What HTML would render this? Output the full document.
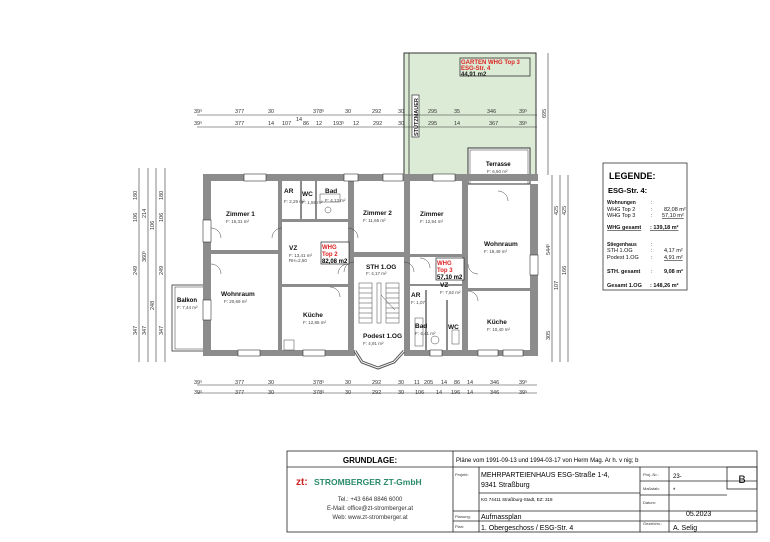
<!DOCTYPE html>
<html><head><meta charset="utf-8"><style>
html,body{margin:0;padding:0;background:#fff}
svg{display:block}
text{font-family:"Liberation Sans",sans-serif}
</style></head><body>
<svg width="770" height="542" viewBox="0 0 770 542" xmlns="http://www.w3.org/2000/svg">
<rect width="770" height="542" fill="#fff"/>
<!-- garden -->
<rect x="404" y="53" width="132" height="122" fill="#dcebd6" stroke="#333" stroke-width="1"/>
<line x1="409" y1="53" x2="409" y2="175" stroke="#333" stroke-width="0.8"/>
<rect x="460" y="58" width="70" height="18" fill="none" stroke="#333" stroke-width="0.8"/>
<text x="461" y="64" font-size="6" fill="#d22" font-weight="bold">GARTEN WHG Top 3</text>
<text x="461" y="70" font-size="6" fill="#d22" font-weight="bold">ESG-Str. 4</text>
<text x="461" y="76" font-size="6" fill="#222" font-weight="bold">44,91 m2</text>
<rect x="412" y="95" width="7" height="42" fill="#fff" stroke="#333" stroke-width="0.7"/>
<text transform="translate(418,136) rotate(-90)" font-size="5.5" fill="#222" font-weight="bold">STÜTZMAUER</text>
<line x1="548" y1="53" x2="548" y2="175" stroke="#333" stroke-width="0.6"/>
<text transform="translate(546,118) rotate(-90)" font-size="5.5" fill="#333">695</text>

<g stroke="#333" stroke-width="0.6">
<line x1="197" y1="115" x2="537" y2="115"/>
<line x1="197" y1="127" x2="537" y2="127"/>
<line x1="197" y1="385" x2="537" y2="385"/>
<line x1="197" y1="393" x2="537" y2="393"/>
</g>
<g font-size="5.5" fill="#333">
<text x="194" y="113">39⁵</text><text x="235" y="113">377</text><text x="268" y="113">30</text><text x="313" y="113">378⁵</text><text x="345" y="113">30</text><text x="372" y="113">292</text><text x="398" y="113">30</text><text x="428" y="113">295</text><text x="454" y="113">35</text><text x="487" y="113">346</text><text x="519" y="113">39⁵</text>
<text x="194" y="125">39⁵</text><text x="235" y="125">377</text><text x="268" y="125">14</text><text x="282" y="125">107</text><text x="296" y="121">14</text><text x="303" y="125">86</text><text x="316" y="125">12</text><text x="333" y="125">193⁵</text><text x="353" y="125">12</text><text x="373" y="125">292</text><text x="398" y="125">30</text><text x="428" y="125">295</text><text x="454" y="125">14</text><text x="489" y="125">367</text><text x="519" y="125">39⁵</text>
<text x="194" y="384">39⁵</text><text x="235" y="384">377</text><text x="268" y="384">30</text><text x="313" y="384">378⁵</text><text x="345" y="384">30</text><text x="372" y="384">292</text><text x="398" y="384">30</text><text x="414" y="384">11</text><text x="424" y="384">205</text><text x="441" y="384">14</text><text x="454" y="384">86</text><text x="467" y="384">14</text><text x="490" y="384">346</text><text x="519" y="384">39⁵</text>
<text x="194" y="394">39⁵</text><text x="235" y="394">377</text><text x="268" y="394">30</text><text x="313" y="394">378⁵</text><text x="345" y="394">30</text><text x="372" y="394">292</text><text x="398" y="394">30</text><text x="415" y="394">106</text><text x="436" y="394">14</text><text x="451" y="394">196</text><text x="467" y="394">14</text><text x="490" y="394">346</text><text x="519" y="394">39⁵</text>
</g>
<g stroke="#333" stroke-width="0.6">
<line x1="139" y1="168" x2="139" y2="362"/><line x1="148" y1="168" x2="148" y2="362"/>
<line x1="156" y1="168" x2="156" y2="362"/><line x1="165" y1="168" x2="165" y2="362"/>
<line x1="552" y1="175" x2="552" y2="362"/><line x1="560" y1="175" x2="560" y2="362"/><line x1="568" y1="175" x2="568" y2="362"/>
</g>
<g font-size="5.5" fill="#333">
<text transform="translate(137,222) rotate(-90)">106</text><text transform="translate(137,200) rotate(-90)">180</text><text transform="translate(137,275) rotate(-90)">249</text><text transform="translate(137,335) rotate(-90)">347</text>
<text transform="translate(146,218) rotate(-90)">214</text><text transform="translate(146,262) rotate(-90)">360⁵</text><text transform="translate(146,335) rotate(-90)">347</text>
<text transform="translate(154,230) rotate(-90)">106</text><text transform="translate(154,310) rotate(-90)">248</text>
<text transform="translate(163,200) rotate(-90)">180</text><text transform="translate(163,222) rotate(-90)">106</text><text transform="translate(163,275) rotate(-90)">249</text><text transform="translate(163,335) rotate(-90)">347</text>
<text transform="translate(550,255) rotate(-90)">544⁵</text><text transform="translate(550,340) rotate(-90)">305</text>
<text transform="translate(558,215) rotate(-90)">425</text><text transform="translate(558,290) rotate(-90)">107</text>
<text transform="translate(566,215) rotate(-90)">425</text><text transform="translate(566,275) rotate(-90)">166</text>
</g>

<rect x="172" y="285" width="32" height="66" fill="#fff" stroke="#333" stroke-width="0.8"/>
<rect x="175" y="287" width="29" height="62" fill="none" stroke="#333" stroke-width="0.5"/>
<text x="177" y="302" font-size="6" font-weight="bold">Balkon</text>
<text x="177" y="309" font-size="4.5" fill="#444">F: 7,44 m²</text>

<rect x="468" y="148" width="62" height="36" fill="#fff" stroke="#333" stroke-width="1"/>
<rect x="470" y="150" width="58" height="34" fill="none" stroke="#333" stroke-width="0.5"/>
<text x="486" y="166" font-size="6" font-weight="bold">Terrasse</text>
<text x="487" y="173" font-size="4.5" fill="#444">F: 6,60 m²</text>

<g fill="#8c8c8c">
<rect x="203" y="174" width="335" height="7"/>
<rect x="203" y="174" width="8" height="182"/>
<rect x="530" y="184" width="8" height="172"/>
<rect x="203" y="350" width="152" height="6"/>
<rect x="404" y="350" width="134" height="6"/>
<rect x="278" y="181" width="4" height="170"/>
<rect x="348" y="181" width="6" height="170"/>
<rect x="404" y="181" width="6" height="170"/>
<rect x="462" y="181" width="6" height="170"/>
<rect x="211" y="250" width="67" height="4"/>
<rect x="354" y="252" width="50" height="5"/>
<rect x="410" y="254" width="52" height="3"/>
<rect x="282" y="284" width="66" height="3"/>
<rect x="282" y="219" width="66" height="3"/>
<rect x="468" y="288" width="62" height="3"/>
<rect x="410" y="284" width="52" height="2"/>
<rect x="300" y="181" width="2" height="38"/>
<rect x="315" y="181" width="2" height="38"/>
<rect x="425" y="290" width="2" height="60"/>
<rect x="446" y="300" width="2" height="50"/>
</g>
<g fill="#fff" stroke="#333" stroke-width="0.6">
<rect x="244" y="174" width="22" height="7"/><rect x="344" y="174" width="14" height="7"/><rect x="383" y="174" width="20" height="7"/><rect x="433" y="174" width="22" height="7"/>
<rect x="238" y="350" width="22" height="6"/><rect x="303" y="350" width="22" height="6"/><rect x="430" y="350" width="12" height="6"/><rect x="478" y="350" width="20" height="6"/><rect x="503" y="350" width="20" height="6"/>
<rect x="203" y="220" width="8" height="22"/><rect x="203" y="300" width="8" height="20"/><rect x="530" y="255" width="8" height="20"/>
</g>
<path d="M355 351 L362 362 L378 368 L394 362 L404 351" fill="none" stroke="#555" stroke-width="3"/>
<path d="M355 351 L362 362 L378 368 L394 362 L404 351" fill="none" stroke="#fff" stroke-width="1"/>
<g stroke="#444" stroke-width="0.5" fill="none">
<rect x="359" y="283" width="13" height="40"/><rect x="377" y="283" width="4" height="40"/><rect x="386" y="283" width="13" height="40"/>
<line x1="359" y1="288" x2="372" y2="288"/><line x1="359" y1="293" x2="372" y2="293"/><line x1="359" y1="298" x2="372" y2="298"/><line x1="359" y1="303" x2="372" y2="303"/><line x1="359" y1="308" x2="372" y2="308"/><line x1="359" y1="313" x2="372" y2="313"/><line x1="359" y1="318" x2="372" y2="318"/>
<line x1="386" y1="288" x2="399" y2="288"/><line x1="386" y1="293" x2="399" y2="293"/><line x1="386" y1="298" x2="399" y2="298"/><line x1="386" y1="303" x2="399" y2="303"/><line x1="386" y1="308" x2="399" y2="308"/><line x1="386" y1="313" x2="399" y2="313"/><line x1="386" y1="318" x2="399" y2="318"/>
<line x1="381" y1="295" x2="395" y2="310"/>
<path d="M211 228 A10 10 0 0 1 221 238"/><path d="M211 264 A10 10 0 0 1 221 274"/><path d="M282 228 A10 10 0 0 0 272 238"/><path d="M348 228 A10 10 0 0 1 358 238"/><path d="M348 264 A10 10 0 0 0 338 274"/><path d="M420 258 A10 10 0 0 1 430 268"/><path d="M468 264 A10 10 0 0 0 478 274"/><path d="M404 262 A10 10 0 0 1 414 272"/><path d="M354 262 A10 10 0 0 0 344 272"/><path d="M330 287 A10 10 0 0 1 340 297"/><path d="M498 191 A10 10 0 0 1 508 201"/><path d="M468 291 A10 10 0 0 1 478 301"/>
<rect x="415" y="318" width="8" height="28"/><circle cx="435" cy="340" r="4"/><rect x="452" y="330" width="7" height="14"/><rect x="320" y="194" width="20" height="8"/><circle cx="328" cy="210" r="3"/>
<rect x="284" y="340" width="10" height="10"/>
</g>
<g font-size="6.5" font-weight="bold" fill="#111">
<text x="226" y="216">Zimmer 1</text><text x="221" y="296">Wohnraum</text><text x="284" y="193">AR</text><text x="302" y="196">WC</text><text x="325" y="193">Bad</text>
<text x="289" y="250">VZ</text><text x="303" y="317">Küche</text><text x="363" y="215">Zimmer 2</text><text x="366" y="269">STH 1.OG</text><text x="363" y="338">Podest 1.OG</text>
<text x="420" y="216">Zimmer</text><text x="484" y="246">Wohnraum</text><text x="440" y="287">VZ</text><text x="411" y="297">AR</text><text x="415" y="328">Bad</text><text x="448" y="329">WC</text><text x="487" y="324">Küche</text>
</g>
<g font-size="4.5" fill="#444">
<text x="226" y="223">F: 15,31 m²</text><text x="224" y="303">F: 20,69 m²</text><text x="284" y="203">F: 2,29 m²</text><text x="302" y="204">F: 1,59 m²</text><text x="325" y="202">F: 4,13 m²</text>
<text x="289" y="257">F: 13,41 m²</text><text x="289" y="262">RH=2,60</text><text x="303" y="324">F: 12,85 m²</text><text x="363" y="222">F: 11,65 m²</text><text x="366" y="275">F: 4,17 m²</text><text x="363" y="345">F: 4,91 m²</text>
<text x="420" y="223">F: 12,54 m²</text><text x="484" y="253">F: 19,49 m²</text><text x="440" y="294">F: 7,62 m²</text><text x="411" y="304">F: 1,07</text><text x="415" y="335">F: 4,41 m²</text><text x="487" y="331">F: 10,40 m²</text>
</g>
<rect x="321" y="242" width="28" height="22" fill="#fff" stroke="#222" stroke-width="0.7"/>
<text x="322" y="249" font-size="6" font-weight="bold" fill="#d22">WHG</text><text x="322" y="256" font-size="6" font-weight="bold" fill="#d22">Top 2</text><text x="322" y="263" font-size="6" font-weight="bold">82,08 m2</text>
<rect x="436" y="258" width="28" height="22" fill="#fff" stroke="#222" stroke-width="0.7"/>
<text x="437" y="265" font-size="6" font-weight="bold" fill="#d22">WHG</text><text x="437" y="272" font-size="6" font-weight="bold" fill="#d22">Top 3</text><text x="437" y="279" font-size="6" font-weight="bold">57,10 m2</text>

<!-- legend -->
<rect x="603" y="163" width="84" height="127" fill="#fff" stroke="#333" stroke-width="0.8"/>
<text x="609" y="179" font-size="9" font-weight="bold">LEGENDE:</text>
<text x="608" y="193" font-size="7.5" font-weight="bold">ESG-Str. 4:</text>
<g font-size="5.5" fill="#111">
<text x="607" y="204" font-weight="bold" font-size="5">Wohnungen</text><text x="651" y="204">:</text>
<text x="607" y="211">WHG Top 2</text><text x="651" y="211">:</text><text x="664" y="211">82,08 m²</text>
<text x="607" y="217">WHG Top 3</text><text x="651" y="217">:</text><text x="662" y="217" text-decoration="underline">57,10 m²</text>
<text x="607" y="229" font-weight="bold" text-decoration="underline">WHG gesamt</text><text x="650" y="229" font-weight="bold" text-decoration="underline">: 139,18 m²</text>
<text x="607" y="246" font-weight="bold" font-size="5">Stiegenhaus</text><text x="651" y="246">:</text>
<text x="607" y="252">STH 1.OG</text><text x="651" y="252">:</text><text x="664" y="252">4,17 m²</text>
<text x="607" y="259">Podest 1.OG</text><text x="651" y="259">:</text><text x="664" y="259" text-decoration="underline">4,91 m²</text>
<text x="607" y="273" font-weight="bold">STH. gesamt</text><text x="651" y="273">:</text><text x="664" y="273" font-weight="bold">9,08 m²</text>
<text x="607" y="287" font-weight="bold">Gesamt 1.OG</text><text x="650" y="287" font-weight="bold">: 148,26 m²</text>
</g>

<!-- title block -->
<g stroke="#222" stroke-width="0.8" fill="none">
<rect x="287" y="451" width="470" height="81"/>
<line x1="453" y1="451" x2="453" y2="532"/>
<line x1="287" y1="467" x2="757" y2="467"/>
<line x1="479" y1="467" x2="479" y2="532"/>
<line x1="479" y1="493" x2="640" y2="493"/>
<line x1="453" y1="511" x2="757" y2="511"/>
<line x1="453" y1="521" x2="757" y2="521"/>
<line x1="640" y1="467" x2="640" y2="532"/>
<line x1="669" y1="467" x2="669" y2="532"/>
<line x1="640" y1="481" x2="757" y2="481"/>
<line x1="640" y1="495" x2="727" y2="495"/>
<rect x="727" y="467" width="30" height="22"/>
</g>
<text x="370" y="463" font-size="8" font-weight="bold" text-anchor="middle">GRUNDLAGE:</text>
<text x="456" y="462" font-size="6">Pläne vom 1991-09-13 und 1994-03-17 von Herm Mag. Ar h. v          nig; b</text>
<text x="296" y="485" font-size="10" font-weight="bold" fill="#c22">zt:</text>
<text x="314" y="485" font-size="8.5" font-weight="bold" fill="#2a8a6a">STROMBERGER ZT-GmbH</text>
<text x="370" y="501" font-size="6" text-anchor="middle" fill="#333">Tel.: +43 664 8846 6000</text>
<text x="370" y="510" font-size="6" text-anchor="middle" fill="#333">E-Mail: office@zt-stromberger.at</text>
<text x="370" y="519" font-size="6" text-anchor="middle" fill="#333">Web: www.zt-stromberger.at</text>
<g font-size="4" fill="#333"><text x="455" y="476">Projekt:</text><text x="455" y="518">Planung:</text><text x="455" y="528">Plan:</text>
<text x="643" y="476">Proj.-Nr.:</text><text x="643" y="490">Maßstab:</text><text x="643" y="504">Datum:</text><text x="643" y="525">Gezeichn.:</text></g>
<text x="481" y="477" font-size="7">MEHRPARTEIENHAUS ESG-Straße 1-4,</text>
<text x="481" y="487" font-size="7">9341 Straßburg</text>
<text x="481" y="501" font-size="4.5">KG 74411 Straßburg-Stadt, EZ: 318</text>
<text x="481" y="519" font-size="7">Aufmassplan</text>
<text x="481" y="530" font-size="7">1. Obergeschoss / ESG-Str. 4</text>
<text x="673" y="478" font-size="6">23-</text>
<text x="673" y="492" font-size="6">*</text>
<text x="686" y="516" font-size="7">05.2023</text>
<text x="673" y="530" font-size="7">A. Selig</text>
<text x="742" y="483" font-size="11" text-anchor="middle">B</text>
</svg>
</body></html>
